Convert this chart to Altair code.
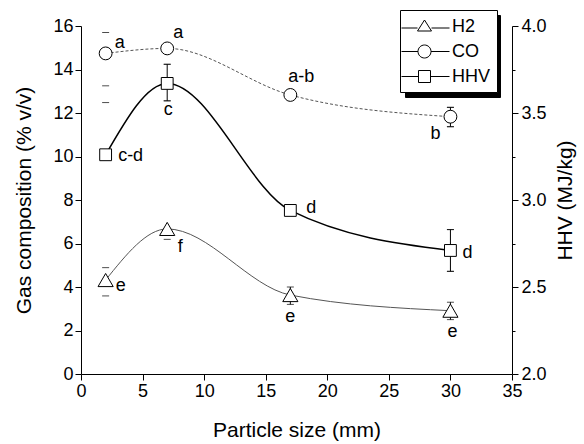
import altair as alt
import pandas as pd

# ---------------- data ----------------
sizes = [2, 7, 17, 30]
h2 = [4.32, 6.67, 3.63, 2.91]
co = [14.74, 14.97, 12.83, 11.83]
hhv = [3.26, 3.67, 2.94, 2.71]

h2_letters = ["e", "f", "e", "e"]
co_letters = ["a", "a", "a-b", "b"]
hhv_letters = ["c-d", "c", "d", "d"]

h2_bar_x = [17, 30]
h2_bar_lo = [3.2, 2.5]
h2_bar_hi = [4.0, 3.3]
h2_cap_x = [2, 2, 7]
h2_cap_y = [4.89, 3.59, 6.19]

co_bar_x = [7, 17, 30]
co_bar_lo = [14.8, 12.65, 11.37]
co_bar_hi = [15.15, 13.0, 12.26]
co_cap_x = [2, 2, 30, 30]
co_cap_y = [15.7, 13.25, 11.37, 12.26]

hhv_bar_x = [7, 17, 30]
hhv_bar_lo = [3.57, 2.92, 2.59]
hhv_bar_hi = [3.78, 2.97, 2.83]
hhv_cap_x = [2, 7, 7, 30, 30]
hhv_cap_y = [3.56, 3.57, 3.78, 2.59, 2.83]

series_names = ["H2", "CO", "HHV"]

# ---------------- layout / style ----------------
FONT = "Liberation Sans"
h2_off = [(15, 6), (13, 18), (0, 22), (2, 21)]
co_off = [(14, -10), (11, -15), (11, -18), (-15, 17)]
hhv_off = [(25, 1), (1, 27), (21, -2), (17, 3)]

legend_paths = [
    "M-1.5,0.15H0.1 M1.5,0.15H3.3 M0.1,0.45L0.8,-0.65L1.5,0.45Z",
    "M-1.5,0H0.15 M1.45,0H3.3 M1.45,0A0.65,0.65,0,1,1,0.15,0A0.65,0.65,0,1,1,1.45,0Z",
    "M-1.5,0H0.2 M1.4,0H3.3 M0.2,-0.6H1.4V0.6H0.2Z",
]

xscale = alt.Scale(domain=[0, 35], nice=False, zero=False)
yl_scale = alt.Scale(domain=[0, 16], nice=False, zero=False)
yr_scale = alt.Scale(domain=[2, 4], nice=False, zero=False)

x_axis = alt.Axis(
    title="Particle size (mm)",
    values=[i * 2.5 for i in range(15)],
    labelExpr="datum.value % 5 === 0 ? datum.label : ''",
    tickSize={"condition": {"test": "datum.value % 5 === 0", "value": 6}, "value": 3},
    grid=False,
    titlePadding=19,
    labelPadding=2,
)
yl_axis = alt.Axis(
    title="Gas composition (% v/v)",
    values=list(range(17)),
    labelExpr="datum.value % 2 === 0 ? datum.label : ''",
    tickSize={"condition": {"test": "datum.value % 2 === 0", "value": 6}, "value": 3},
    grid=False,
    titlePadding=18,
    labelPadding=2,
)
yr_axis = alt.Axis(
    title="HHV (MJ/kg)",
    orient="right",
    values=[2 + i * 0.25 for i in range(9)],
    format=".1f",
    labelExpr="abs(datum.value*2 - round(datum.value*2)) < 0.001 ? datum.label : ''",
    tickSize={"condition": {"test": "abs(datum.value*2 - round(datum.value*2)) < 0.001", "value": 6}, "value": 3},
    grid=False,
    titleAngle=270,
    titleBaseline="top",
    titlePadding=8,
    labelPadding=3,
)


def pts_df(ys, letters):
    return pd.DataFrame({"x": sizes, "y": ys, "lab": letters})


def bars_df(xs, lo, hi):
    return pd.DataFrame({"x": xs, "lo": lo, "hi": hi})


def caps_df(xs, ys):
    return pd.DataFrame({"x": xs, "y": ys})


def series_layers(ys, letters, bx, blo, bhi, cx, cy, offs, shape, size, line_props, yscale, axis):
    d = pts_df(ys, letters)
    X = alt.X("x:Q", scale=xscale, axis=x_axis)
    Y = alt.Y("y:Q", scale=yscale, axis=axis)
    line = alt.Chart(d).mark_line(interpolate="monotone", **line_props).encode(x=X, y=Y)
    bars_d = bars_df(bx, blo, bhi)
    bars = alt.Chart(bars_d).mark_rule(color="black", strokeWidth=1).encode(
        x=alt.X("x:Q", scale=xscale), y=alt.Y("lo:Q", scale=yscale), y2="hi:Q"
    )
    cap_rows = caps_df(cx + bx + bx, cy + blo + bhi)
    caps = alt.Chart(cap_rows).mark_tick(orient="horizontal", size=7, thickness=1, color="black").encode(
        x=alt.X("x:Q", scale=xscale), y=alt.Y("y:Q", scale=yscale)
    )
    points = alt.Chart(d).mark_point(
        shape=shape, size=size, filled=True, fill="white", stroke="black", strokeWidth=1, opacity=1
    ).encode(x=alt.X("x:Q", scale=xscale), y=alt.Y("y:Q", scale=yscale))
    texts = []
    for i in range(len(sizes)):
        dx, dy = offs[i]
        texts.append(
            alt.Chart(d.iloc[[i]]).mark_text(
                font=FONT, fontSize=18, color="black", dx=dx, dy=dy, align="center", baseline="middle"
            ).encode(x=alt.X("x:Q", scale=xscale), y=alt.Y("y:Q", scale=yscale), text="lab:N")
        )
    return [line, bars, caps, points] + texts


h2_layers = series_layers(h2, h2_letters, h2_bar_x, h2_bar_lo, h2_bar_hi, h2_cap_x, h2_cap_y,
                          h2_off, "triangle-up", 230,
                          {"color": "#555555", "strokeWidth": 1}, yl_scale, yl_axis)
co_layers = series_layers(co, co_letters, co_bar_x, co_bar_lo, co_bar_hi, co_cap_x, co_cap_y,
                          co_off, "circle", 165,
                          {"color": "#555555", "strokeWidth": 1, "strokeDash": [3, 2]}, yl_scale, yl_axis)
hhv_layers = series_layers(hhv, hhv_letters, hhv_bar_x, hhv_bar_lo, hhv_bar_hi, hhv_cap_x, hhv_cap_y,
                           hhv_off, "square", 140,
                           {"color": "black", "strokeWidth": 1.5}, yr_scale, yr_axis)

LEG_X, LEG_Y, SHADOW = 319, -16, 5
common_legend = dict(
    title=None,
    orient="none",
    symbolSize=400,
    symbolOpacity=1,
    symbolStrokeWidth=1,
    labelFont=FONT,
    labelFontSize=18,
    rowPadding=5,
    padding=6,
    cornerRadius=0,
)

leg_df = pd.DataFrame({"x": sizes[:2], "y": [h2[0], co[0]], "Series": series_names[:2]})
shadow_df = pd.DataFrame({"x": sizes[:2], "y": [h2[0], co[0]], "Shadow": series_names[:2]})

# legend-only layers (invisible marks): drop shadow (color legend) + real legend (shape legend)
shadow_layer = alt.Chart(shadow_df).mark_point(opacity=0, filled=False).encode(
    x=alt.X("x:Q", scale=xscale),
    y=alt.Y("y:Q", scale=yl_scale),
    color=alt.Color(
        "Shadow:N",
        scale=alt.Scale(domain=series_names[::-1], range=["black", "black", "black"]),
        legend=alt.Legend(
            legendX=LEG_X + SHADOW,
            legendY=LEG_Y + SHADOW,
            symbolType=legend_paths[2],
            symbolFillColor="black",
            symbolStrokeColor="black",
            labelExpr="''",
            labelOffset=62,
            labelColor="black",
            strokeColor="black",
            fillColor="black",
            zindex=0,
            **common_legend,
        ),
    ),
)
legend_layer = alt.Chart(leg_df).mark_point(opacity=0, filled=False).encode(
    x=alt.X("x:Q", scale=xscale),
    y=alt.Y("y:Q", scale=yl_scale),
    shape=alt.Shape(
        "Series:N",
        scale=alt.Scale(domain=series_names, range=legend_paths),
        legend=alt.Legend(
            legendX=LEG_X,
            legendY=LEG_Y,
            symbolFillColor="white",
            symbolStrokeColor="black",
            labelOffset=25,
            labelColor="black",
            strokeColor="black",
            fillColor="white",
            zindex=1,
            **common_legend,
        ),
    ),
)

left = alt.layer(*(co_layers + h2_layers), shadow_layer, legend_layer)
right = alt.layer(*hhv_layers)

chart = (
    alt.layer(left, right)
    .resolve_scale(y="independent", shape="independent", color="independent")
    .properties(
        width=431,
        height=348,
        autosize=alt.AutoSizeParams(type="none"),
        padding={"left": 81, "top": 26, "right": 72, "bottom": 70},
        background="white",
    )
    .configure_view(stroke=None)
    .configure_axis(
        labelFont=FONT,
        titleFont=FONT,
        labelFontSize=18,
        titleFontSize=21,
        titleFontWeight="normal",
        labelColor="black",
        titleColor="black",
        domainColor="black",
        tickColor="black",
        domainWidth=1,
        tickWidth=1,
        labelFlush=False,
        labelOverlap=False,
    )
)

chart.save("out.html", embed_options={"renderer": "svg", "actions": False})
